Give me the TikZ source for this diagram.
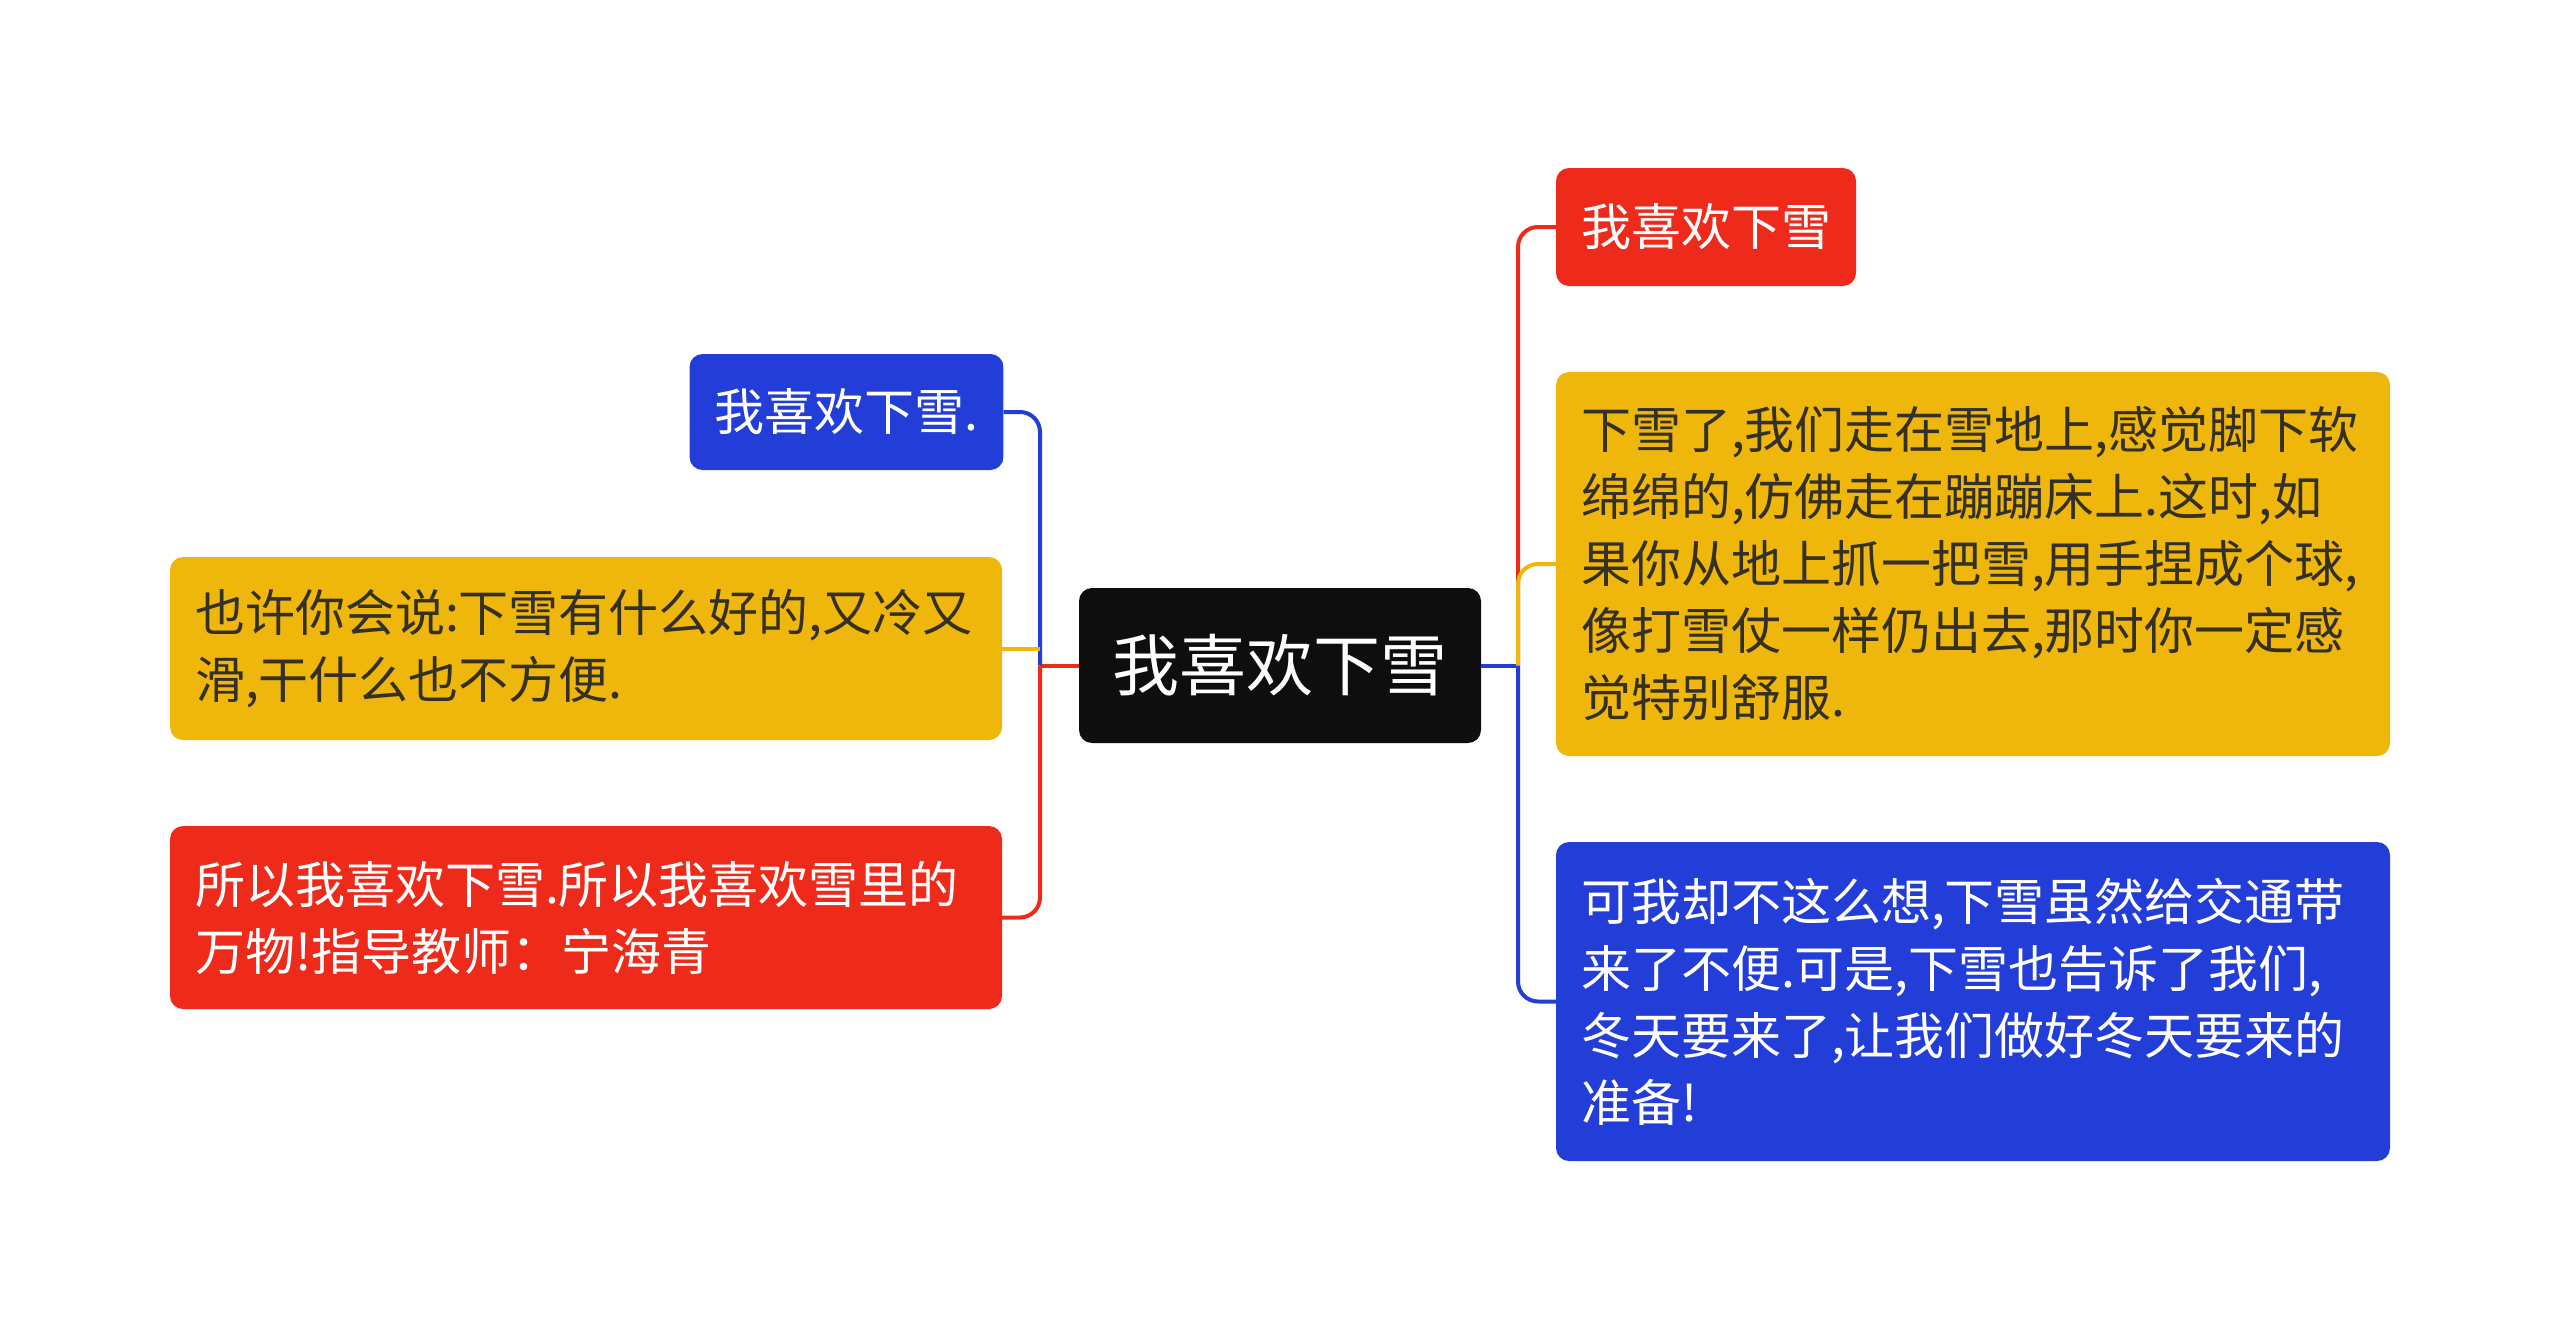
\documentclass[tikz,border=0pt]{standalone}
\usepackage{fontspec}
\setmainfont{Noto Sans CJK SC}
\definecolor{cred}{RGB}{238,42,26}
\definecolor{cyel}{RGB}{239,183,12}
\definecolor{cblu}{RGB}{35,62,216}
\definecolor{cblk}{RGB}{14,14,14}
\definecolor{ctxt}{RGB}{52,48,36}
\begin{document}
\begin{tikzpicture}[x=1pt,y=-1pt,
  box/.style={rounded corners=13pt, inner xsep=25pt, inner ysep=0pt, anchor=center,
    font=\fontsize{50}{67}\selectfont},
  multi/.style={align=left},
  link/.style={line width=4pt, rounded corners=20pt}]
\fill[white] (0,0) rectangle (2560,1331);
\useasboundingbox (0,0) rectangle (2560,1331);
% central
\node[box, fill=cblk, text=white, minimum width=402pt, minimum height=155pt,
  font=\fontsize{67}{80}\selectfont] (C) at (1280,665.5) {我喜欢下雪};
% right
\node[box, fill=cred, text=white, minimum width=300pt, minimum height=118pt] (R1) at (1706,227) {我喜欢下雪};
\node[box, multi, fill=cyel, text=ctxt, text width=784pt, minimum height=384pt] (R2) at (1973,564)
  {下雪了,我们走在雪地上,感觉脚下软\\绵绵的,仿佛走在蹦蹦床上.这时,如\\果你从地上抓一把雪,用手捏成个球,\\像打雪仗一样仍出去,那时你一定感\\觉特别舒服.};
\node[box, multi, fill=cblu, text=white, text width=784pt, minimum height=319pt] (R3) at (1973,1001.5)
  {可我却不这么想,下雪虽然给交通带\\来了不便.可是,下雪也告诉了我们,\\冬天要来了,让我们做好冬天要来的\\准备!};
% left
\node[box, fill=cblu, text=white, minimum width=311pt, minimum height=116pt] (L1) at (846.5,412) {我喜欢下雪.};
\node[box, multi, fill=cyel, text=ctxt, text width=782pt, minimum height=183pt] (L2) at (586,648.5)
  {也许你会说:下雪有什么好的,又冷又\\滑,干什么也不方便.};
\node[box, multi, fill=cred, text=white, text width=782pt, minimum height=183pt] (L3) at (586,917.5)
  {所以我喜欢下雪.所以我喜欢雪里的\\万物!指导教师：宁海青};
% junctions
\coordinate (jl) at (1040,665.5);
\coordinate (jr) at (1518,665.5);
% left connectors
\draw[link, cred] (C.west) -- (jl);
\draw[link, cblu] (jl) |- (L1.east);
\draw[link, cred] (jl) |- (L3.east);
\draw[link, cyel] (L2.east) -- (L2.east -| jl);
% right connectors
\draw[link, cblu] (C.east) -- (jr);
\draw[link, cred] (jr) |- (R1.west);
\draw[link, cblu] (jr) |- (R3.west);
\draw[link, cyel] (jr) |- (R2.west);
\end{tikzpicture}
\end{document}
